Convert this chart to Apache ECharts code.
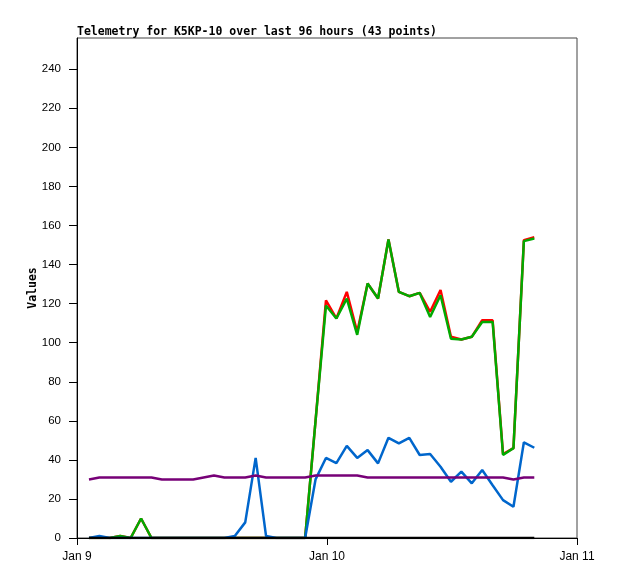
<!DOCTYPE html>
<html>
<head>
<meta charset="utf-8">
<script src="https://cdn.jsdelivr.net/npm/echarts@6/dist/echarts.min.js"></script>
<style>html,body{margin:0;padding:0;background:#fff;}#c{width:618px;height:579px;}</style>
</head>
<body>
<div id="c"></div>
<script>
// Hours since Jan 9 00:00 for each of the 43 samples
var hours = [1.15,2.15,3.15,4.15,5.15,6.15,7.15,8.15,9.15,10.15,11.15,12.15,13.15,14.15,15.15,16.15,17.15,18.15,19.15,20.15,
             21.9,22.9,23.9,24.9,25.9,26.9,27.9,28.9,29.9,30.9,31.9,32.9,33.9,34.9,35.9,36.9,37.9,38.9,39.9,40.9,41.9,42.9,43.9];
var redVals = [0,0,0,1,0,10,0,0,0,0,0,0,0,0,0,0,0,0,0,0,
               0,60,121.7,112.4,126,105.5,130.3,122.6,152.8,126,123.8,125.5,115.8,127,103,101.6,103,111.5,111.5,43,46,152.5,154];
var greenVals = [0,0,0,1,0,10,0,0,0,0,0,0,0,0,0,0,0,0,0,0,
                 0,60,119,112.4,122.6,104,130.3,122.6,152.8,126,123.8,125.5,113.2,124.3,102,101.6,103,110.6,110.6,42.5,46,152,153.3];
var blueVals = [0,1,0,0,0,0,0,0,0,0,0,0,0,0,1,8,41,1,0,0,
                0,30,41,38.3,47.2,41,45,38.2,51.3,48.4,51.3,42.5,43,36.5,28.8,34,28,34.8,27,19.4,16,49,46.2];
var purpleVals = [30,31,31,31,31,31,31,30,30,30,30,31,32,31,31,31,32,31,31,31,
                  31,32,32,32,32,32,31,31,31,31,31,31,31,31,31,31,31,31,31,31,30,31,31];
var blackVals = [0,0,0,0,0,0,0,0,0,0,0,0,0,0,0,0,0,0,0,0,
                 0,0,0,0,0,0,0,0,0,0,0,0,0,0,0,0,0,0,0,0,0,0,0];
var yTicks = [0,20,40,60,80,100,120,140,160,180,200,220,240];
var xTickVals = [0,24,48];
var xTickLabels = ['Jan 9','Jan 10','Jan 11'];

function pairs(vals){ return vals.map(function(v,i){ return [hours[i], v]; }); }

var chart = echarts.init(document.getElementById('c'), null, {renderer:'canvas'});
var mono = 'DejaVu Sans Mono';
var sans = 'Liberation Sans';
function line(name, color, vals){
  return {name:name, type:'line', data:pairs(vals), symbol:'none', showSymbol:false,
          lineStyle:{color:color, width:2.5}, itemStyle:{color:color}, animation:false, z:2};
}
chart.setOption({
  animation:false,
  backgroundColor:'#ffffff',
  title:{text:'Telemetry for K5KP-10 over last 96 hours (43 points)', left:77, top:26, padding:0,
         textStyle:{fontFamily:mono, fontWeight:'bold', fontSize:11.5, color:'#000'}},
  grid:{left:77, right:41, top:38, bottom:41, show:true, borderColor:'#444', borderWidth:1, backgroundColor:'transparent'},
  xAxis:{type:'value', min:0, max:48, interval:24,
         axisLine:{show:true, onZero:false, lineStyle:{color:'#000', width:1}},
         axisTick:{show:true, length:7, inside:false, lineStyle:{color:'#000'}},
         axisLabel:{margin:13, fontFamily:sans, fontSize:12, color:'#000',
                    formatter:function(v){ var i=xTickVals.indexOf(v); return i>=0?xTickLabels[i]:''; }},
         splitLine:{show:false}},
  yAxis:{type:'value', min:0, max:256, interval:20, name:'Values', nameLocation:'middle', nameGap:38, nameRotate:90,
         nameMoveOverlap:false,
         nameTextStyle:{fontFamily:mono, fontWeight:'bold', fontSize:11.5, color:'#000'},
         axisLine:{show:true, lineStyle:{color:'#000', width:1}},
         axisTick:{show:true, length:8, customValues:yTicks, lineStyle:{color:'#000'}},
         axisLabel:{margin:16, fontFamily:sans, fontSize:11.5, color:'#000', customValues:yTicks},
         splitLine:{show:false}},
  series:[
    line('red','#ff0000',redVals),
    line('green','#00aa00',greenVals),
    line('blue','#0066cc',blueVals),
    line('purple','#770077',purpleVals),
    line('black','#000000',blackVals)
  ]
});
</script>
</body>
</html>
